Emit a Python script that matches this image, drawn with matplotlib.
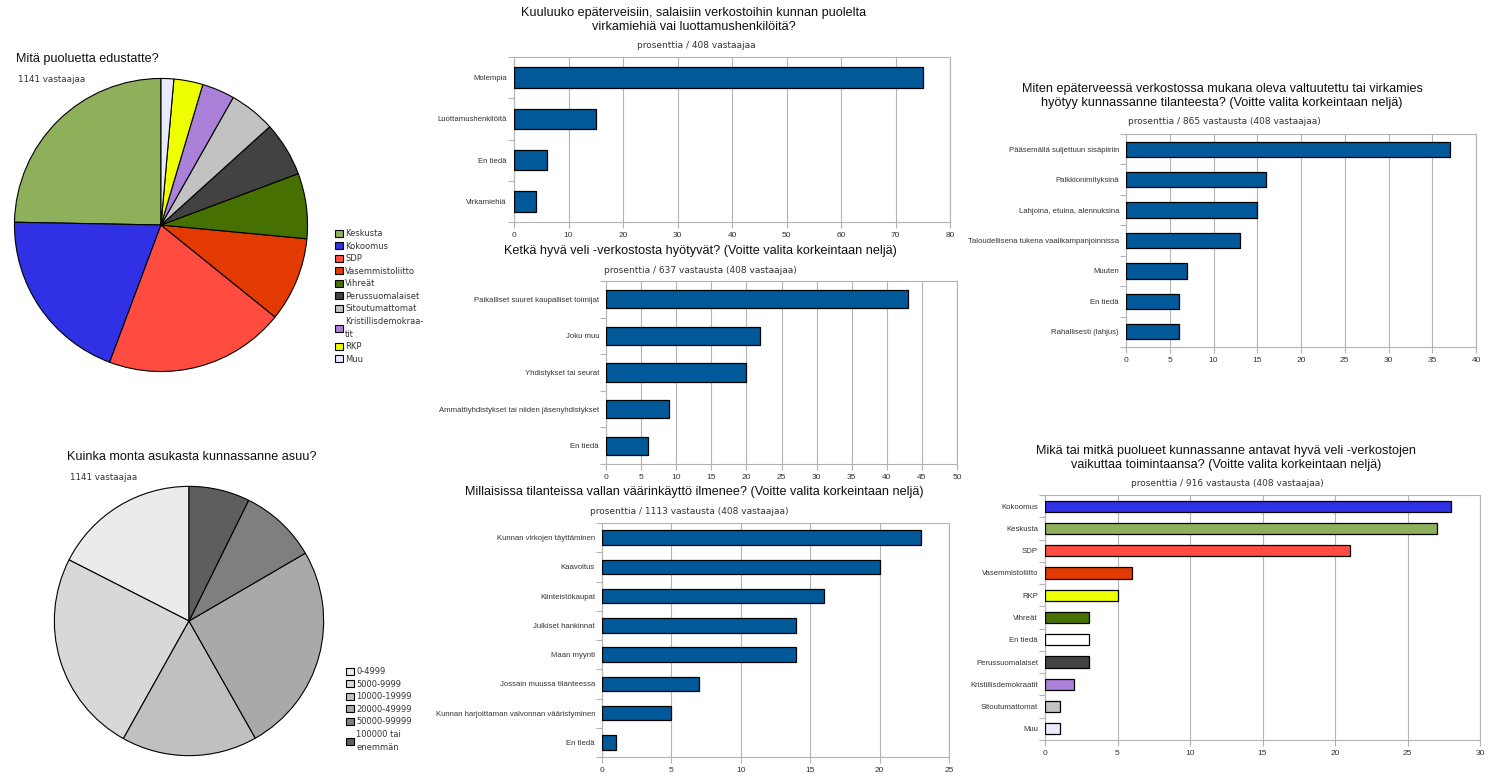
import matplotlib
matplotlib.use('Agg')
import matplotlib.pyplot as plt
from matplotlib.patches import Patch

W, H = 1499, 784

# --- data -----------------------------------------------------------------
party_labels = ['Keskusta', 'Kokoomus', 'SDP', 'Vasemmistoliitto', 'Vihreät',
                'Perussuomalaiset', 'Sitoutumattomat', 'Kristillisdemokraa-\ntit',
                'RKP', 'Muu']
party_share = [24.7, 19.6, 19.9, 9.3, 7.2, 6.0, 5.1, 3.6, 3.2, 1.4]
party_colors = ['#8fb05a', '#3030e4', '#ff4b40', '#e23a00', '#467000',
                '#424242', '#c2c2c2', '#ab80d8', '#eeff00', '#eaeaff']

size_labels = ['0-4999', '5000-9999', '10000-19999', '20000-49999',
               '50000-99999', '100000 tai\nenemmän']
size_share = [17.5, 24.4, 16.3, 25.2, 9.3, 7.3]
size_colors = ['#ebebeb', '#d8d8d8', '#c0c0c0', '#a9a9a9', '#7f7f7f', '#5e5e5e']

q1_cats = ['Molempia', 'Luottamushenkilöitä', 'En tiedä', 'Virkamiehiä']
q1_vals = [75, 15, 6, 4]

q2_cats = ['Paikalliset suuret kaupalliset toimijat', 'Joku muu',
           'Yhdistykset tai seurat',
           'Ammattiyhdistykset tai niiden jäsenyhdistykset', 'En tiedä']
q2_vals = [43, 22, 20, 9, 6]

q3_cats = ['Kunnan virkojen täyttäminen', 'Kaavoitus', 'Kiinteistökaupat',
           'Julkiset hankinnat', 'Maan myynti', 'Jossain muussa tilanteessa',
           'Kunnan harjoittaman valvonnan vääristyminen', 'En tiedä']
q3_vals = [23, 20, 16, 14, 14, 7, 5, 1]

q4_cats = ['Pääsemällä suljettuun sisäpiiriin', 'Palkkionimityksinä',
           'Lahjoina, etuina, alennuksina',
           'Taloudellisena tukena vaalikampanjoinnissa', 'Muuten', 'En tiedä',
           'Rahallisesti (lahjus)']
q4_vals = [37, 16, 15, 13, 7, 6, 6]

q5_cats = ['Kokoomus', 'Keskusta', 'SDP', 'Vasemmistoliitto', 'RKP', 'Vihreät',
           'En tiedä', 'Perussuomalaiset', 'Kristillisdemokraatit',
           'Sitoutumattomat', 'Muu']
q5_vals = [28, 27, 21, 6, 5, 3, 3, 3, 2, 1, 1]
q5_colors = ['#3030e4', '#8fb05a', '#ff4b40', '#e23a00', '#eeff00', '#467000',
             '#ffffff', '#424242', '#ab80d8', '#c2c2c2', '#eaeaff']

BLUE = '#01599a'
GRID = '#b3b3b3'

fig = plt.figure(figsize=(W / 100, H / 100), dpi=100)
fig.patch.set_facecolor('white')


def box(x0, y0, x1, y1):
    return fig.add_axes([x0 / W, 1 - y1 / H, (x1 - x0) / W, (y1 - y0) / H])


def ftext(x, y, s, **kw):
    fig.text(x / W, 1 - y / H, s, **kw)


def pie_panel(rect, vals, colors, labels, leg_xy):
    ax = box(*rect)
    ax.pie(vals, colors=colors, startangle=90, counterclock=True,
           wedgeprops=dict(edgecolor='black', linewidth=0.8))
    ax.set_xlim(-1.01, 1.01)
    ax.set_ylim(-1.01, 1.01)
    ax.set_aspect('equal')
    handles = [Patch(facecolor=c, edgecolor='black', linewidth=0.8) for c in colors]
    leg = fig.legend(handles, labels, loc='upper left',
                     bbox_to_anchor=(leg_xy[0] / W, 1 - leg_xy[1] / H),
                     frameon=False, borderpad=0, handlelength=0.9,
                     handleheight=0.9, handletextpad=0.3, labelspacing=0.42,
                     prop={'family': 'DejaVu Sans', 'size': 6})
    for t in leg.get_texts():
        t.set_color('#333333')
        t.set_linespacing(1.55)


def bar_panel(rect, cats, vals, xmax, step, colors=None):
    ax = box(*rect)
    n = len(cats)
    pos = list(range(n))
    ax.barh(pos, vals, height=0.5, color=colors if colors else BLUE,
            edgecolor='black', linewidth=0.9, zorder=3)
    ax.set_ylim(n - 0.5, -0.5)
    ax.set_xlim(0, xmax)
    ax.set_xticks(range(0, xmax + 1, step))
    ax.set_yticks(pos)
    ax.set_yticklabels(cats, family='Liberation Sans', fontsize=5.6, color='#333333')
    ax.set_yticks([p - 0.5 for p in pos] + [n - 0.5], minor=True)
    ax.tick_params(axis='y', which='major', length=0, pad=5)
    ax.tick_params(axis='y', which='minor', length=4, color=GRID, width=0.8)
    ax.tick_params(axis='x', length=4, color=GRID, width=0.8, labelsize=6,
                   labelcolor='#333333', pad=3)
    for lab in ax.get_xticklabels():
        lab.set_family('Liberation Sans')
    ax.grid(axis='x', color=GRID, linewidth=0.8, zorder=0)
    ax.set_axisbelow(True)
    for sp in ax.spines.values():
        sp.set_color(GRID)
        sp.set_linewidth(0.8)
    return ax


title_kw = dict(family='Liberation Sans', fontsize=9.1, color='#111111',
                linespacing=1.15)
sub_kw = dict(family='DejaVu Sans', fontsize=6.5, color='#333333',
              ha='center', va='center')

# --- pies -----------------------------------------------------------------
pie_panel((13, 77, 309, 373), party_share, party_colors, party_labels, (331, 225))
ftext(16, 59, 'Mitä puoluetta edustatte?', ha='left', va='center', **title_kw)
ftext(18, 80, '1141 vastaajaa', ha='left', va='center', family='DejaVu Sans',
      fontsize=6.3, color='#333333')

pie_panel((53, 485, 325, 757), size_share, size_colors, size_labels, (342, 663))
ftext(67, 457, 'Kuinka monta asukasta kunnassanne asuu?', ha='left',
      va='center', **title_kw)
ftext(70, 477, '1141 vastaajaa', ha='left', va='center', family='DejaVu Sans',
      fontsize=6.3, color='#333333')

# --- bar charts -----------------------------------------------------------
bar_panel((514, 57, 950, 222), q1_cats, q1_vals, 80, 10)
ftext(694, 20, 'Kuuluuko epäterveisiin, salaisiin verkostoihin kunnan puolelta\n'
      'virkamiehiä vai luottamushenkilöitä?', ha='center', va='center', **title_kw)
ftext(696, 45, 'prosenttia / 408 vastaajaa', **sub_kw)

bar_panel((606, 281, 957, 464), q2_cats, q2_vals, 50, 5)
ftext(700, 251, 'Ketkä hyvä veli -verkostosta hyötyvät? (Voitte valita korkeintaan neljä)',
      ha='center', va='center', **title_kw)
ftext(700, 270, 'prosenttia / 637 vastausta (408 vastaajaa)', **sub_kw)

bar_panel((602, 523, 949, 757), q3_cats, q3_vals, 25, 5)
ftext(694, 492, 'Millaisissa tilanteissa vallan väärinkäyttö ilmenee? (Voitte valita korkeintaan neljä)',
      ha='center', va='center', **title_kw)
ftext(689, 511, 'prosenttia / 1113 vastausta (408 vastaajaa)', **sub_kw)

bar_panel((1126, 134, 1476, 347), q4_cats, q4_vals, 40, 5)
ftext(1222, 96, 'Miten epäterveessä verkostossa mukana oleva valtuutettu tai virkamies\n'
      'hyötyy kunnassanne tilanteesta? (Voitte valita korkeintaan neljä)',
      ha='center', va='center', **title_kw)
ftext(1224, 122, 'prosenttia / 865 vastausta (408 vastaajaa)', **sub_kw)

bar_panel((1045, 495, 1480, 740), q5_cats, q5_vals, 30, 5, colors=q5_colors)
ftext(1226, 458, 'Mikä tai mitkä puolueet kunnassanne antavat hyvä veli -verkostojen\n'
      'vaikuttaa toimintaansa? (Voitte valita korkeintaan neljä)',
      ha='center', va='center', **title_kw)
ftext(1227, 483, 'prosenttia / 916 vastausta (408 vastaajaa)', **sub_kw)

plt.savefig('out.png', dpi=100)
